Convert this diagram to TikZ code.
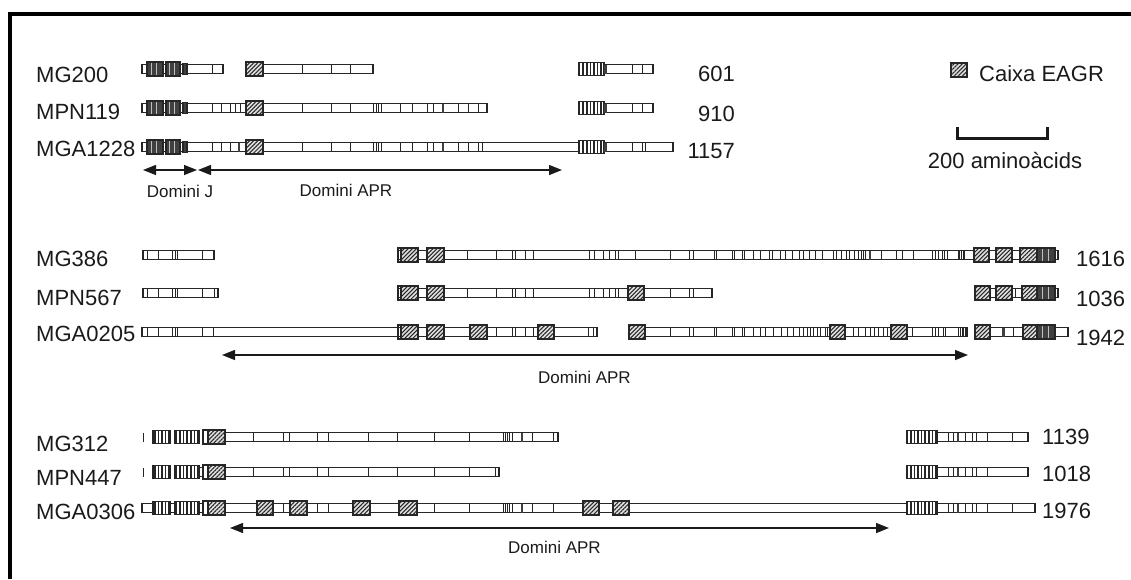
\documentclass[tikz,border=0pt]{standalone}
\usepackage{fontspec}
\setmainfont{Liberation Sans}
\usetikzlibrary{arrows.meta,patterns.meta}
\definecolor{ink}{HTML}{1A1A1A}
\definecolor{darkblk}{HTML}{404040}
\tikzset{
  barline/.style={line width=1.1pt, draw=black!85},
  tickline/.style={line width=0.75pt, draw=black!85},
  lbl/.style={anchor=west, inner sep=0pt, text=ink, font=\fontsize{22}{26}\selectfont, text height=16pt, text depth=0pt},
  numw/.style={lbl},
  nume/.style={lbl, anchor=east},
  small/.style={inner sep=0pt, text=ink, font=\fontsize{17}{20}\selectfont},
  darrow/.style={line width=1.4pt, draw=ink, {Triangle[length=13pt,width=10pt]}-{Triangle[length=13pt,width=10pt]}},
}
% bar segment: y, x1, x2
\newcommand{\pbar}[3]{\draw[barline,fill=white] (#2,#1-4.5) rectangle (#3,#1+4.5);}
% thin ticks
\newcommand{\ptk}[2]{\foreach \t in {#2}{\draw[tickline] (\t,#1-4.5) -- (\t,#1+4.5);}}
% thick dark ticks
\newcommand{\pdtk}[2]{\foreach \t in {#2}{\draw[line width=2.4pt,draw=darkblk] (\t,#1-4.5) -- (\t,#1+4.5);}}
% hatched EAGR box
\newcommand{\phat}[3]{\fill[black!12] (#2,#1-7) rectangle (#3,#1+7);
  \fill[pattern={Lines[angle=45,distance=2.9pt,line width=1.05pt]},pattern color=black!85] (#2,#1-7) rectangle (#3,#1+7);
  \draw[barline] (#2,#1-7) rectangle (#3,#1+7);}
% striped block
\newcommand{\pstr}[3]{\fill[white] (#2,#1-6.5) rectangle (#3,#1+6.5);
  \fill[pattern={Lines[angle=90,distance=3.6pt,line width=1.6pt]},pattern color=black!85] (#2,#1-6.5) rectangle (#3,#1+6.5);
  \draw[barline] (#2,#1-6.5) rectangle (#3,#1+6.5);}
% dark block
\newcommand{\pdrk}[3]{\fill[darkblk] (#2,#1-7) rectangle (#3,#1+7);
  \foreach \f in {0.28,0.62}{\draw[line width=1pt,draw=black!25] ({#2+(#3-#2)*\f},#1-6) -- ({#2+(#3-#2)*\f},#1+6);}
  \draw[barline] (#2,#1-7) rectangle (#3,#1+7);}
% J domain left part
\newcommand{\jdom}[1]{\ptk{#1}{146}\pdrk{#1}{147}{163}\pdrk{#1}{166}{180}\draw[barline,fill=darkblk] (183,#1-5.5) rectangle (187,#1+5.5);}
\begin{document}
\begin{tikzpicture}[x=1pt,y=-1pt]
\useasboundingbox (0,0) rectangle (1131,579);
% frame
\draw[line width=4pt,draw=black] (10,579) -- (10,14) -- (1131,14);

% ===== group 1 =====
\node[lbl] (l1) at (36,74) {MG200};
\node[lbl] (l2) at (36,111) {MPN119};
\node[lbl] (l3) at (36,148) {MGA1228};
% MG200
\pbar{69}{142}{223}\ptk{69}{212}\jdom{69}
\pbar{69}{263}{373}\ptk{69}{302,331,350}\phat{69}{246}{263}
\pbar{69}{604}{653}\ptk{69}{632,642}\pstr{69}{579}{604}\pdtk{69}{605.5}
% MPN119
\pbar{108}{142}{487}\ptk{108}{212,221,230,235,240,302,331,350,373,376,378,381,400,412,427,433,458,468,478}\pdtk{108}{443}\jdom{108}\phat{108}{246}{263}
\pbar{108}{604}{653}\ptk{108}{632,642}\pstr{108}{579}{604}\pdtk{108}{605.5}
% MGA1228
\pbar{147}{142}{579}\ptk{147}{212,221,230,302,331,350,373,376,378,381,400,412,427,433,458,468,478,482}\pdtk{147}{239,443}\jdom{147}\phat{147}{246}{263}
\pbar{147}{604}{673}\ptk{147}{632,642,645}\pstr{147}{579}{604}\pdtk{147}{605.5}
\node[nume] (n1) at (735,73) {601};
\node[nume] (n2) at (735,113) {910};
\node[nume] (n3) at (735,150.5) {1157};
% arrows
\coordinate (ja) at (143,170);
\coordinate (jb) at (197,170);
\coordinate (aa) at (198,170);
\coordinate (ab) at (562,170);
\draw[darrow] (ja) -- (jb);
\draw[darrow] (aa) -- (ab);
\node[small] (dj) at (180,191.5) {Domini J};
\node[small] (da1) at (346,190) {Domini APR};
% legend
\phat{70}{951}{967}
\node[lbl] (leg) at (979,73) {Caixa EAGR};
\draw[line width=3pt,draw=ink] (957,127) -- (957,138) -- (1047,138) -- (1047,127);
\node[lbl,anchor=center] (sc) at (1005,160) {200 aminoàcids};

% ===== group 2 =====
\node[lbl] (l4) at (36,258) {MG386};
\node[lbl] (l5) at (36,297) {MPN567};
\node[lbl] (l6) at (36,333) {MGA0205};
% MG386
\pbar{255}{143}{214}\ptk{255}{147,158,172,175,177,202}
\pbar{255}{398}{1058}
\ptk{255}{467,496,512,515,525,533,589,594,603,609,615,618,635,670,689,693,714,716,732,734,742,744,753,760,769,772,780,785,792,799,803,809,815,822,833,836,841,846,849,854,858,861,863,865,881,896,902,913,932,935,938,942,944,947,958,959,961,963,964}
\pdtk{255}{870}
\phat{255}{401}{418}\draw[barline] (398,248) rectangle (401,262);
\phat{255}{427}{444}
\phat{255}{974}{989}\phat{255}{996}{1012}\phat{255}{1020}{1037}\pdrk{255}{1037}{1055}
% MPN567
\pbar{293}{143}{218}\ptk{293}{147,158,172,175,177,202,214}
\pbar{293}{398}{712}\ptk{293}{467,496,512,515,525,533,589,594,603,609,615,618,670,689,693}
\phat{293}{401}{418}\draw[barline] (398,286) rectangle (401,300);
\phat{293}{427}{444}\phat{293}{628}{644}
\pbar{293}{975}{1058}\ptk{293}{1015}
\phat{293}{975}{990}\phat{293}{996}{1012}\phat{293}{1022}{1037}\pdrk{293}{1037}{1055}
% MGA0205
\pbar{332}{142}{597}\ptk{332}{147,158,172,175,177,202,213,496,512,515,525,533,588,593}
\phat{332}{401}{418}\draw[barline] (398,325) rectangle (401,339);
\phat{332}{427}{444}\phat{332}{470}{487}\phat{332}{538}{554}
\pbar{332}{629}{967}
\ptk{332}{670,689,693,714,716,732,734,742,744,753,760,765,773,781,787,793,799,803,807,810,813,817,820,825,827,853,858,865,870,874,878,883,887,912,932,935,938,943,945,958,960,962,963,965}
\phat{332}{629}{645}\phat{332}{830}{845}\phat{332}{891}{907}
\pbar{332}{975}{1068}\ptk{332}{1013}\pdtk{332}{1003.5}
\phat{332}{975}{990}\phat{332}{1023}{1037}\pdrk{332}{1037}{1055}
\node[numw] (n4) at (1076,258) {1616};
\node[numw] (n5) at (1076,298.5) {1036};
\node[numw] (n6) at (1076,337.5) {1942};
\coordinate (ba) at (222,355);
\coordinate (bb) at (968,355);
\draw[darrow] (ba) -- (bb);
\node[small] (da2) at (584.5,377) {Domini APR};

% ===== group 3 =====
\node[lbl] (l7) at (36,443) {MG312};
\node[lbl] (l8) at (36,477.5) {MPN447};
\node[lbl] (l9) at (36,511) {MGA0306};
% MG312
\ptk{437}{143}
\pstr{437}{153}{170}\pstr{437}{175}{199}
\draw[barline,fill=white] (203,430) rectangle (208,444);
\pbar{437}{225}{558}\ptk{437}{253,283,289,317,328,368,397,434,469,503,505,507,509,512,532,553}\pdtk{437}{522}
\phat{437}{208}{225}
\pbar{437}{937}{1028}\ptk{437}{948,953,965,972,976,987,1012}\pdtk{437}{958}
\pstr{437}{907}{937}
% MPN447
\ptk{472}{143}
\pbar{472}{199}{203}
\pstr{472}{153}{170}\pstr{472}{175}{199}
\draw[barline,fill=white] (203,465) rectangle (208,479);
\pbar{472}{225}{499}\ptk{472}{253,283,289,317,328,368,397,434,469,495}
\phat{472}{208}{225}
\pbar{472}{937}{1028}\ptk{472}{948,953,965,972,976,987}\pdtk{472}{958}
\pstr{472}{907}{937}
% MGA0306
\pbar{508}{142}{907}
\ptk{508}{153,283,317,328,434,469,503,505,507,509,512,532,553}\pdtk{508}{522}
\pstr{508}{153}{170}\pstr{508}{175}{199}
\draw[barline,fill=white] (203,501) rectangle (208,515);
\phat{508}{208}{225}\phat{508}{257}{273}\phat{508}{290}{307}\phat{508}{353}{370}\phat{508}{399}{417}
\phat{508}{583}{599}\phat{508}{613}{629}
\pbar{508}{937}{1035}\ptk{508}{948,953,965,972,976,987,1012}\pdtk{508}{958}
\pstr{508}{907}{937}
\node[numw] (n7) at (1042,436.5) {1139};
\node[numw] (n8) at (1042,473.5) {1018};
\node[numw] (n9) at (1042,510) {1976};
\coordinate (ca) at (230,528);
\coordinate (cb) at (889,528);
\draw[darrow] (ca) -- (cb);
\node[small] (da3) at (554.5,547) {Domini APR};
\end{tikzpicture}
\end{document}
